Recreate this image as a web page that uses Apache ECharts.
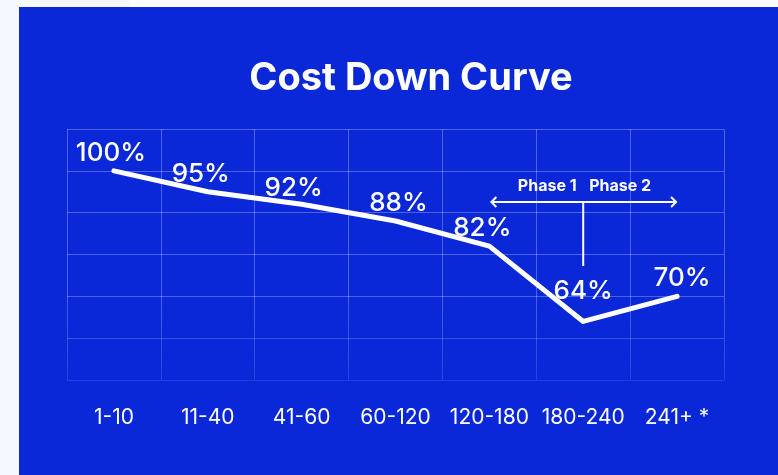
<!DOCTYPE html>
<html>
<head>
<meta charset="utf-8">
<script src="https://cdn.jsdelivr.net/npm/echarts@6/dist/echarts.min.js"></script>
<style>
html,body{margin:0;padding:0;background:#f5f8fe;}
#c{width:778px;height:475px;}
</style>
</head>
<body>
<div id="c"></div>
<script>
const categories = ['1-10','11-40','41-60','60-120','120-180','180-240','241+ *'];
const costPercent = [100, 95, 92, 88, 82, 64, 70];
const labelOffsets = [[-3,0],[-7,0],[-8,2],[3,0],[-7,0],[0,-12],[5,0]];
const phaseLabels = ['Phase 1', 'Phase 2'];
const phaseArrow = {from: 4, to: 6, split: 5, level: 92.55, bottom: 77.25};

const BLUE = '#0a28d8';
const GRIDC = 'rgba(255,255,255,0.28)';
const FONT = 'Inter, "Noto Sans", sans-serif';

const chart = echarts.init(document.getElementById('c'), null, {renderer: 'canvas'});

const option = {
  backgroundColor: BLUE,
  animation: false,
  title: {
    text: 'Cost Down Curve',
    left: 406, top: 55, textAlign: 'center',
    textStyle: {color: '#fff', fontSize: 38, fontWeight: 'bold', fontFamily: FONT}
  },
  grid: {left: 67, right: 54, top: 129, bottom: 95, containLabel: false},
  xAxis: {
    type: 'category',
    data: categories,
    boundaryGap: true,
    axisLine: {show: false},
    axisTick: {show: false},
    axisLabel: {color: '#fff', fontSize: 21, fontFamily: FONT, margin: 27, interval: 0},
    splitLine: {show: true, interval: 0, lineStyle: {color: GRIDC, width: 1}}
  },
  yAxis: {
    type: 'value',
    min: 50, max: 110, interval: 10,
    axisLine: {show: false},
    axisTick: {show: false},
    axisLabel: {show: false},
    splitLine: {show: true, lineStyle: {color: GRIDC, width: 1}}
  },
  series: [{
    type: 'line',
    data: costPercent.map((v, i) => ({
      value: v,
      label: {offset: labelOffsets[i]}
    })),
    smooth: false,
    showSymbol: true,
    symbol: 'circle',
    symbolSize: 2,
    itemStyle: {color: 'rgba(0,0,0,0)', borderWidth: 0},
    lineStyle: {color: '#fff', width: 5, cap: 'round', join: 'round'},
    label: {
      show: true, position: 'top', distance: 4,
      formatter: p => p.value + '%',
      color: '#fff', fontSize: 26, fontFamily: FONT, fontWeight: 500
    },
    z: 3
  }]
};
chart.setOption(option);

function px(x, y){ return chart.convertToPixel({gridIndex: 0}, [x, y]); }
const a = px(phaseArrow.from, phaseArrow.level);
const b = px(phaseArrow.to, phaseArrow.level);
const s = px(phaseArrow.split, phaseArrow.level);
const sb = px(phaseArrow.split, phaseArrow.bottom);
const gridBottom = px(0, 50)[1];
const AW = {stroke: '#fff', lineWidth: 2, fill: null};

chart.setOption({
  graphic: [
    {type: 'rect', shape: {x: 0, y: 0, width: 19, height: 475}, style: {fill: '#f5f8fe'}, z: 10},
    {type: 'rect', shape: {x: 0, y: 0, width: 129, height: 7}, style: {fill: '#f5f8fe'}, z: 10},
    {type: 'rect', shape: {x: 129, y: 0, width: 649, height: 7}, style: {fill: '#ffffff'}, z: 10},
    {type: 'rect', shape: {x: 60, y: gridBottom - 85, width: 680, height: 110},
     style: {fill: new echarts.graphic.LinearGradient(0, 0, 0, 1, [
       {offset: 0, color: 'rgba(10,40,216,0)'},
       {offset: 0.75, color: 'rgba(10,40,216,0.55)'},
       {offset: 1, color: 'rgba(10,40,216,1)'}
     ])}, z: 1, silent: true},
    {type: 'line', shape: {x1: a[0] + 2, y1: a[1], x2: b[0] - 1, y2: b[1]}, style: AW, z: 5},
    {type: 'polyline', shape: {points: [[a[0] + 7, a[1] - 5], [a[0] + 2, a[1]], [a[0] + 7, a[1] + 5]]}, style: AW, z: 5},
    {type: 'polyline', shape: {points: [[b[0] - 6, b[1] - 5], [b[0] - 1, b[1]], [b[0] - 6, b[1] + 5]]}, style: AW, z: 5},
    {type: 'line', shape: {x1: s[0], y1: s[1], x2: sb[0], y2: sb[1]}, style: AW, z: 5},
    {type: 'text', x: s[0] - 36, y: s[1] - 16, style: {text: phaseLabels[0], fill: '#fff', font: 'bold 16px ' + FONT, textAlign: 'center', textVerticalAlign: 'middle'}, z: 5},
    {type: 'text', x: s[0] + 37, y: s[1] - 16, style: {text: phaseLabels[1], fill: '#fff', font: 'bold 16px ' + FONT, textAlign: 'center', textVerticalAlign: 'middle'}, z: 5}
  ]
});
</script>
</body>
</html>
